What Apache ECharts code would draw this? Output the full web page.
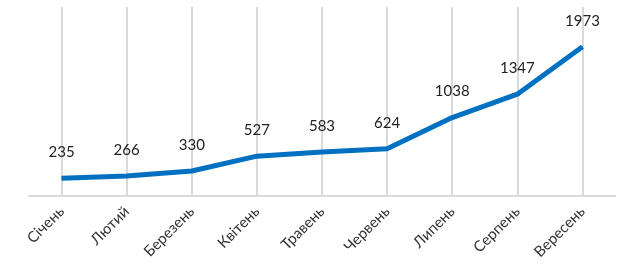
<!DOCTYPE html>
<html>
<head>
    <meta charset="utf-8">
    <title>ECharts</title>
    <script src="https://cdn.jsdelivr.net/npm/echarts@6/dist/echarts.min.js"></script>
</head>
<body style="margin:0;background:#fff">
    <div id="main" style="width: 621px;height:268px;"></div>
    <script type="text/javascript">
        var months = ['Січень', 'Лютий', 'Березень', 'Квітень', 'Травень', 'Червень', 'Липень', 'Серпень', 'Вересень'];
        var values = [235, 266, 330, 527, 583, 624, 1038, 1347, 1973];

        var myChart = echarts.init(document.getElementById('main'));

        var option = {
            backgroundColor: '#ffffff',
            animation: false,
            grid: { left: 29, right: 6, top: 7, bottom: 72 },
            xAxis: {
                type: 'category',
                data: months,
                boundaryGap: true,
                axisLine: { lineStyle: { color: '#d9d9d9', width: 2 } },
                axisTick: { show: false },
                splitLine: { show: true, alignWithLabel: true, lineStyle: { color: '#d9d9d9', width: 2 } },
                axisLabel: {
                    rotate: 45,
                    margin: 13,
                    interval: 0,
                    color: '#333333',
                    fontFamily: 'Lato',
                    fontSize: 15
                }
            },
            yAxis: {
                type: 'value',
                min: 0,
                max: 2500,
                show: false,
                splitLine: { show: false }
            },
            series: [{
                type: 'line',
                data: values,
                symbol: 'circle',
                symbolSize: 1,
                showSymbol: true,
                lineStyle: { color: '#0070c0', width: 5 },
                itemStyle: { color: '#0070c0' },
                label: {
                    show: true,
                    position: 'top',
                    distance: 18,
                    color: '#222222',
                    fontFamily: 'Lato',
                    fontSize: 15
                }
            }]
        };

        myChart.setOption(option);
    </script>
</body>
</html>
